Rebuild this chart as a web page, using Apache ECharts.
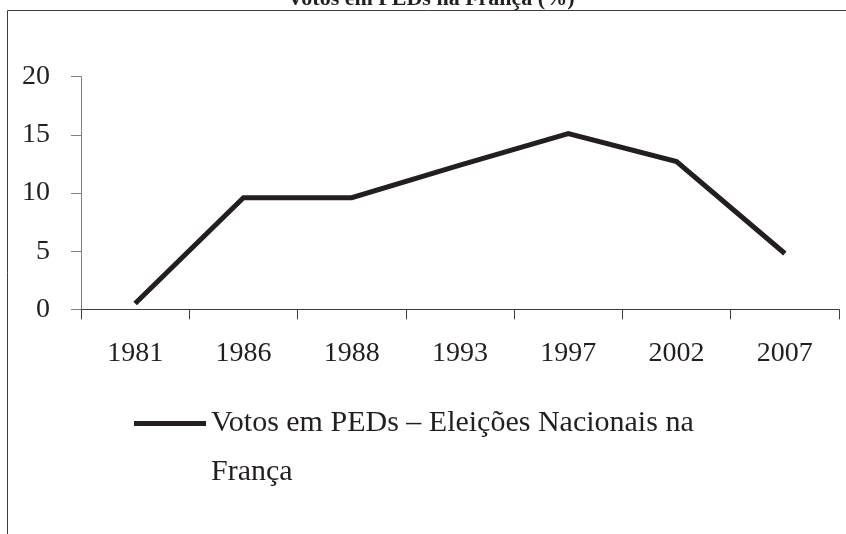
<!DOCTYPE html>
<html>
<head>
<meta charset="utf-8">
<script src="https://cdn.jsdelivr.net/npm/echarts@6/dist/echarts.min.js"></script>
<style>
html,body{margin:0;padding:0;background:#fff;}
#chart{width:846px;height:534px;}
</style>
</head>
<body>
<div id="chart"></div>
<script>
const titleText = 'Votos em PEDs na França (%)';
const categories = ['1981', '1986', '1988', '1993', '1997', '2002', '2007'];
const votos = [0.5, 9.6, 9.6, 12.4, 15.1, 12.7, 4.8];
const yTicks = [0, 5, 10, 15, 20];
const seriesName = 'Votos em PEDs – Eleições Nacionais na França';
const legendLines = ['Votos em PEDs – Eleições Nacionais na', 'França'];

const serif = '"Liberation Serif", "DejaVu Serif", serif';
const chart = echarts.init(document.getElementById('chart'), null, {renderer: 'canvas'});
chart.setOption({
  animation: false,
  backgroundColor: '#ffffff',
  title: {
    text: titleText,
    left: 431,
    textAlign: 'center',
    top: -12,
    padding: 0,
    textStyle: {fontFamily: serif, fontWeight: 'bold', fontSize: 22, color: '#231f20'}
  },
  graphic: [{
    type: 'rect',
    silent: true,
    z: -10,
    shape: {x: 7.5, y: 10.5, width: 1000, height: 1000},
    style: {fill: 'none', stroke: '#3c3c3c', lineWidth: 1}
  }],
  legend: {
    show: true,
    left: 134,
    top: 350,
    padding: 0,
    icon: 'rect',
    itemWidth: 72,
    itemHeight: 5,
    itemGap: 6,
    itemStyle: {color: '#231f20'},
    formatter: function () { return '\n' + legendLines.join('\n'); },
    textStyle: {
      fontFamily: serif, fontSize: 30, color: '#231f20',
      lineHeight: 49
    },
    data: [seriesName]
  },
  grid: {left: 81, right: 7, top: 76.7, bottom: 224.7, containLabel: false},
  xAxis: {
    type: 'category',
    data: categories,
    boundaryGap: true,
    axisLine: {show: true, lineStyle: {color: '#3c3c3c', width: 1}},
    axisTick: {show: true, length: 10, lineStyle: {color: '#3c3c3c'}},
    axisLabel: {fontFamily: serif, fontSize: 28, color: '#231f20', margin: 30},
    splitLine: {show: false}
  },
  yAxis: {
    type: 'value',
    min: yTicks[0],
    max: yTicks[yTicks.length - 1],
    interval: yTicks[1] - yTicks[0],
    axisLine: {show: true, lineStyle: {color: '#808080', width: 1}},
    axisTick: {show: true, length: 10, lineStyle: {color: '#808080'}},
    axisLabel: {fontFamily: serif, fontSize: 28, color: '#231f20', margin: 31},
    splitLine: {show: false}
  },
  series: [{
    name: seriesName,
    type: 'line',
    data: votos,
    symbol: 'none',
    smooth: false,
    lineStyle: {color: '#231f20', width: 5, cap: 'butt', join: 'miter'},
    itemStyle: {color: '#231f20'}
  }]
});
</script>
</body>
</html>
